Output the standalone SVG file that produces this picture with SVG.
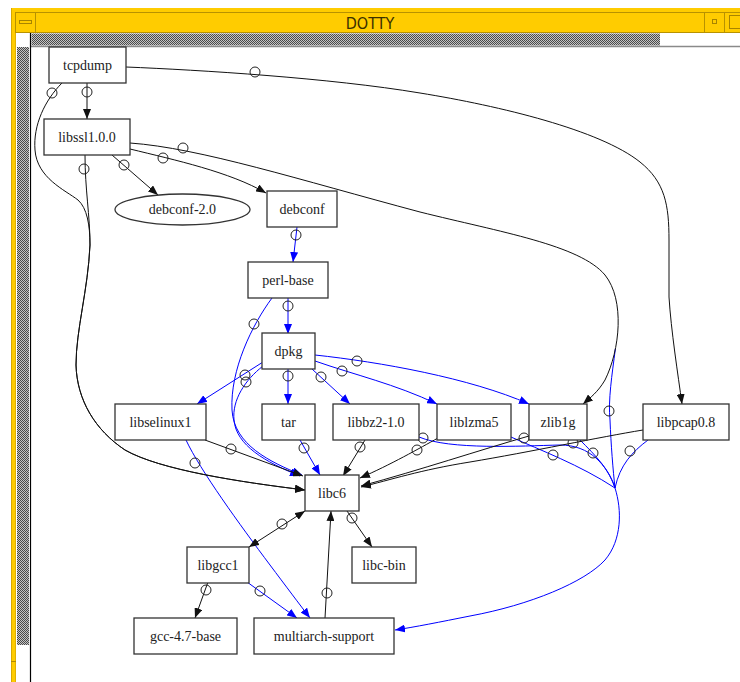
<svg xmlns="http://www.w3.org/2000/svg" width="740" height="682" viewBox="0 0 740 682">
<defs>
<style>
.nd{fill:#fff;stroke:#333;stroke-width:1.3}
.lb{font-family:'Liberation Serif','Times New Roman',serif;font-size:14px;fill:#222;text-anchor:middle}
.k{fill:none;stroke:#111;stroke-width:1}
.b{fill:none;stroke:#0000ff;stroke-width:1}
.ka{marker-end:url(#ak)}
.ba{marker-end:url(#ab)}
.od{fill:none;stroke:#222;stroke-width:1}
</style>
<marker id="ak" viewBox="0 0 10 8" refX="10" refY="4" markerWidth="10" markerHeight="8" markerUnits="userSpaceOnUse" orient="auto"><path d="M0,0L10,4L0,8z" fill="#111"/></marker>
<marker id="aks" viewBox="0 0 10 8" refX="10" refY="4" markerWidth="10" markerHeight="8" markerUnits="userSpaceOnUse" orient="auto-start-reverse"><path d="M0,0L10,4L0,8z" fill="#111"/></marker>
<marker id="ab" viewBox="0 0 10 8" refX="10" refY="4" markerWidth="10" markerHeight="8" markerUnits="userSpaceOnUse" orient="auto"><path d="M0,0L10,4L0,8z" fill="#0000ff"/></marker>
<pattern id="chk" width="2" height="2" patternUnits="userSpaceOnUse"><rect width="2" height="2" fill="#c4c4c4"/><rect width="1" height="1" fill="#4a4a4a"/><rect x="1" y="1" width="1" height="1" fill="#4a4a4a"/></pattern>
</defs>
<rect x="0" y="0" width="740" height="682" fill="#fff"/>
<g id="window">
<rect x="11" y="8" width="729" height="25" fill="#ffcc00"/>
<rect x="11" y="8" width="5" height="674" fill="#ffcc00"/>
<line x1="11.5" y1="8" x2="11.5" y2="682" stroke="#d9a800" stroke-width="1"/>
<line x1="15.5" y1="33" x2="15.5" y2="682" stroke="#e0b000" stroke-width="1"/>
<line x1="11" y1="661.5" x2="16" y2="661.5" stroke="#b08a00" stroke-width="1"/>
<rect x="15.5" y="12.5" width="725" height="20" fill="none" stroke="#b89200" stroke-width="1"/>
<line x1="35.5" y1="12.5" x2="35.5" y2="32.5" stroke="#b89200" stroke-width="1"/>
<rect x="19.5" y="20.5" width="12" height="3" fill="none" stroke="#a88400" stroke-width="1"/>
<line x1="704.5" y1="12.5" x2="704.5" y2="32.5" stroke="#b89200" stroke-width="1"/>
<line x1="724.5" y1="12.5" x2="724.5" y2="32.5" stroke="#b89200" stroke-width="1"/>
<rect x="712.5" y="19.5" width="4" height="4" fill="none" stroke="#a88400" stroke-width="1"/>
<rect x="729.5" y="15.5" width="12" height="13" fill="none" stroke="#a88400" stroke-width="1"/>
<text x="370" y="29" font-family="'DejaVu Sans Condensed','DejaVu Sans',sans-serif" font-size="16" fill="#3a3000" text-anchor="middle">DOTTY</text>
<rect x="31.5" y="33.5" width="628.5" height="12" fill="url(#chk)"/>
<line x1="30" y1="46.5" x2="740" y2="46.5" stroke="#8a8a8a" stroke-width="1.5"/>
<rect x="17" y="47" width="12" height="598" fill="url(#chk)"/>
<line x1="30.5" y1="33" x2="30.5" y2="682" stroke="#000" stroke-width="1.2"/>
</g>
<g id="connectors">
<path class="b ba" d="M615.4,348.6 C612,375 608,400 610,420 C611,445 613,470 615,488 C622,510 622,540 605,560 C585,582 530,605 470,616 C440,622 415,627 395,630"/>
<path class="b" d="M580,440 C595,455 610,470 615,488"/>
<path class="b" d="M648,440 C632,452 620,465 615,488"/>
<path class="b" d="M511,437 C540,450 580,465 615,488"/>
<path class="b" d="M419,437 C450,450 520,446 560,445 C590,445 607,465 615,488"/>
<path class="b ba" d="M186,440 C200,470 240,525 270,565 C285,585 300,605 310,618"/>
<path class="b ba" d="M247,582 L297,618"/>
<path class="b ba" d="M300,440 L320,475"/>
<path class="b ba" d="M297,227 L293,262"/>
<path class="b ba" d="M288,298 L288,334"/>
<path class="b ba" d="M272,298 C252,325 230,370 232,410 C234,445 270,462 302,475"/>
<path class="b ba" d="M263,366 C245,380 232,400 234,420 C236,445 265,462 300,476"/>
<path class="b ba" d="M263,362 L197,404"/>
<path class="b ba" d="M288,369 L288,404"/>
<path class="b ba" d="M312,369 L350,404"/>
<path class="b ba" d="M315,361 C355,375 395,384 437,404"/>
<path class="b ba" d="M315,355 C380,362 470,378 529,404"/>
<path class="k ka" d="M87,83 L87,119"/>
<path class="k ka" d="M126,67 C200,70 330,78 420,93 C500,106 600,130 640,162 C665,182 669,205 669,240 L669,297 C671,330 678,375 682,404"/>
<path class="k ka" d="M62,83 C45,100 33,125 35,150 C37,178 65,190 78,200 C87,208 90,225 90,245 C88,290 76,330 76,365 C77,400 95,430 125,450 C160,470 240,482 305,490"/>
<path class="k ka" d="M85,155 C85,190 90,215 90,245 C88,290 76,330 76,365 C77,400 95,430 125,450 C160,470 240,482 305,490"/>
<path class="k ka" d="M112,155 L158,195"/>
<path class="k ka" d="M130,149 C175,160 230,172 266,193"/>
<path class="k ka" d="M130,143 C200,148 300,180 420,212 C500,232 580,245 605,275 C625,300 620,350 605,380 C598,392 590,398 583,404"/>
<path class="k ka" d="M205,440 L303,476"/>
<path class="k ka" d="M365,440 L343,476"/>
<path class="k ka" d="M438,438 C420,448 390,465 360,478"/>
<path class="k ka" d="M529,436 C480,450 420,470 361,486"/>
<path class="k ka" d="M643,430 C600,437 530,452 470,462 C420,470 390,480 361,487"/>
<path class="k ka" d="M249,547 L305,511" marker-start="url(#aks)"/>
<path class="k ka" d="M325,618 L331,511"/>
<path class="k ka" d="M347,511 L372,547"/>
<path class="k ka" d="M208,582 L195,618"/>
<circle class="od" cx="87" cy="92" r="5"/>
<circle class="od" cx="255" cy="72" r="5"/>
<circle class="od" cx="52" cy="93" r="5"/>
<circle class="od" cx="84" cy="169" r="5"/>
<circle class="od" cx="124" cy="165" r="5"/>
<circle class="od" cx="163" cy="158" r="5"/>
<circle class="od" cx="183" cy="148" r="5"/>
<circle class="od" cx="296" cy="235" r="5"/>
<circle class="od" cx="288" cy="306" r="5"/>
<circle class="od" cx="254" cy="324" r="5"/>
<circle class="od" cx="245" cy="375" r="5"/>
<circle class="od" cx="246" cy="382" r="5"/>
<circle class="od" cx="288" cy="376" r="5"/>
<circle class="od" cx="321" cy="377" r="5"/>
<circle class="od" cx="342" cy="371" r="5"/>
<circle class="od" cx="357" cy="361" r="5"/>
<circle class="od" cx="231" cy="449" r="5"/>
<circle class="od" cx="195" cy="463" r="5"/>
<circle class="od" cx="304" cy="448" r="5"/>
<circle class="od" cx="360" cy="447" r="5"/>
<circle class="od" cx="417" cy="450" r="5"/>
<circle class="od" cx="423" cy="438" r="5"/>
<circle class="od" cx="524" cy="438" r="5"/>
<circle class="od" cx="573" cy="443" r="5"/>
<circle class="od" cx="553" cy="455" r="5"/>
<circle class="od" cx="593" cy="453" r="5"/>
<circle class="od" cx="630" cy="451" r="5"/>
<circle class="od" cx="609" cy="411" r="5"/>
<circle class="od" cx="282" cy="524" r="5"/>
<circle class="od" cx="327" cy="593" r="5"/>
<circle class="od" cx="352" cy="518" r="5"/>
<circle class="od" cx="206" cy="590" r="5"/>
<circle class="od" cx="260" cy="591" r="5"/>
</g>
<g id="tcpdump"><rect class="nd" x="49" y="47" width="77" height="36"/><text class="lb" x="87.5" y="70">tcpdump</text></g>
<g id="libssl1.0.0"><rect class="nd" x="44" y="119" width="86" height="36"/><text class="lb" x="87" y="142">libssl1.0.0</text></g>
<g id="debconf-2.0"><ellipse class="nd" cx="182.5" cy="209.5" rx="67.5" ry="15.5"/><text class="lb" x="182.5" y="214">debconf-2.0</text></g>
<g id="debconf"><rect class="nd" x="267" y="191" width="70" height="36"/><text class="lb" x="302" y="214">debconf</text></g>
<g id="perl-base"><rect class="nd" x="248" y="262" width="80" height="36"/><text class="lb" x="288" y="285">perl-base</text></g>
<g id="dpkg"><rect class="nd" x="262" y="333" width="53" height="36"/><text class="lb" x="288.5" y="356">dpkg</text></g>
<g id="libselinux1"><rect class="nd" x="115" y="404" width="91" height="36"/><text class="lb" x="160.5" y="427">libselinux1</text></g>
<g id="tar"><rect class="nd" x="262" y="404" width="53" height="36"/><text class="lb" x="288.5" y="427">tar</text></g>
<g id="libbz2-1.0"><rect class="nd" x="333" y="404" width="86" height="36"/><text class="lb" x="376" y="427">libbz2-1.0</text></g>
<g id="liblzma5"><rect class="nd" x="437" y="404" width="74" height="36"/><text class="lb" x="474" y="427">liblzma5</text></g>
<g id="zlib1g"><rect class="nd" x="529" y="404" width="58" height="36"/><text class="lb" x="558" y="427">zlib1g</text></g>
<g id="libpcap0.8"><rect class="nd" x="643" y="404" width="86" height="36"/><text class="lb" x="686" y="427">libpcap0.8</text></g>
<g id="libc6"><rect class="nd" x="305" y="475" width="54" height="36"/><text class="lb" x="332" y="498">libc6</text></g>
<g id="libgcc1"><rect class="nd" x="187" y="547" width="62" height="36"/><text class="lb" x="218" y="570">libgcc1</text></g>
<g id="libc-bin"><rect class="nd" x="352" y="547" width="64" height="36"/><text class="lb" x="384" y="570">libc-bin</text></g>
<g id="gcc-4.7-base"><rect class="nd" x="134" y="618" width="103" height="36"/><text class="lb" x="185.5" y="641">gcc-4.7-base</text></g>
<g id="multiarch-support"><rect class="nd" x="254" y="618" width="140" height="36"/><text class="lb" x="324" y="641">multiarch-support</text></g>
</svg>
